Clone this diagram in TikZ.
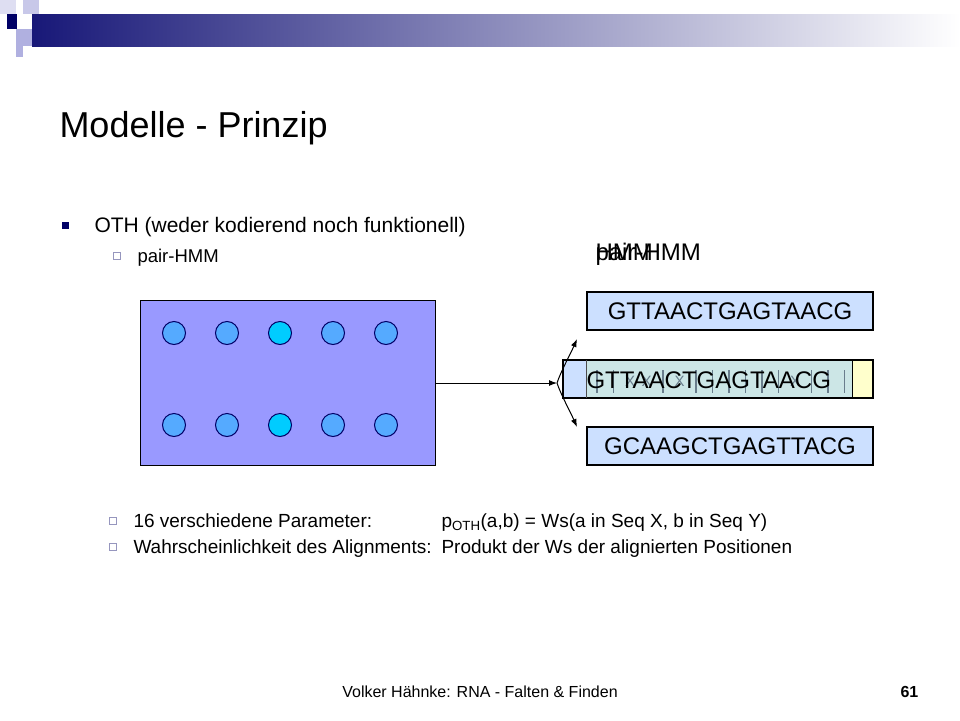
\documentclass[tikz,border=0pt]{standalone}
\usepackage{fontspec}
\setmainfont{Liberation Sans}
\usetikzlibrary{arrows, arrows.meta, positioning}
\definecolor{navyblue}{RGB}{0,0,102}
\definecolor{barnavy}{RGB}{24,24,120}
\definecolor{lavender}{RGB}{176,176,224}
\definecolor{paleblue}{RGB}{222,222,242}
\definecolor{modelblue}{RGB}{153,153,255}
\definecolor{dotblue}{RGB}{85,170,255}
\definecolor{dotcyan}{RGB}{0,204,255}
\definecolor{seqblue}{RGB}{204,224,255}
\definecolor{seqgreen}{RGB}{204,230,230}
\definecolor{seqyellow}{RGB}{255,255,204}
\definecolor{markgray}{RGB}{105,125,140}
\definecolor{hollowgray}{RGB}{150,150,190}

\begin{document}
\begin{tikzpicture}[x=1pt, y=-1pt, line width=1pt,
	txt/.style={inner sep=0pt, anchor=base west},
	tip/.style={-{Latex[length=8, width=6]}},
	seqbox/.style={draw, line width=1.2pt, fill=seqblue, minimum width=286, minimum height=38, inner sep=0pt, font=\fontsize{24}{28}\selectfont},
	dot/.style={circle, draw=navyblue, line width=1pt, minimum size=23, inner sep=0pt}]

	\useasboundingbox (0,0) rectangle (960,720);

	% header bar
	\fill[paleblue] (0,0) rectangle (16,14);
	\fill[lavender!70] (23,0) rectangle (39,14);
	\shade[left color=barnavy, right color=white] (32,14) rectangle (960,46);
	\fill[navyblue] (7,14) rectangle (17,29);
	\fill[lavender] (16,29) rectangle (32,46);
	\fill[lavender] (16,46) rectangle (23,57);

	% title
	\node[txt, font=\fontsize{36}{40}\selectfont] (title) at (59,137) {Modelle - Prinzip};

	% bullets
	\fill[navyblue] (62,222) rectangle (69,229);
	\node[txt, font=\fontsize{21}{24}\selectfont] (oth) at (94,232) {OTH (weder kodierend noch funktionell)};
	\draw[hollowgray] (113,252) rectangle (120,259);
	\node[txt, font=\fontsize{18.5}{21}\selectfont] (pairhmm) at (137,262) {pair-HMM};

	% model box
	\node[draw, line width=1.2pt, fill=modelblue, minimum width=295, minimum height=165, inner sep=0pt] (model) at (288,383) {};
	\foreach \i in {0,...,4}{
		\ifnum\i=2 \def\dotcol{dotcyan}\else \def\dotcol{dotblue}\fi
		\node[dot, fill=\dotcol] (top\i) at (174+53*\i,333) {};
		\node[dot, fill=\dotcol] (bot\i) at (174+53*\i,425) {};
	}

	% labels top right (overlapping)
	\node[txt, font=\fontsize{24}{28}\selectfont] (hmm) at (595,260) {HMM};
	\node[txt, font=\fontsize{24}{28}\selectfont] (pairlabel) at (595,260) {pair-HMM};

	% sequences
	\node[seqbox] (seqtop) at (730,311) {GTTAACTGAGTAACG};
	\node[seqbox] (seqbot) at (730,446) {GCAAGCTGAGTTACG};
	\node[seqbox, minimum width=310] (seqmid) at (718,379) {};
	\fill[seqgreen] (586,360) rectangle (852,398);
	\fill[seqyellow] (852,360) rectangle (873,398);
	\draw[line width=1.2pt] (563,360) rectangle (873,398);
	\draw[line width=0.8pt, black!70] (586,360) -- (586,398);
	\draw[line width=0.8pt] (852,360) -- (852,398);
	% alignment marks
	\foreach \k in {1,...,16}{
		\ifnum\k=3 \def\mk{X}\else\ifnum\k=4 \def\mk{X}\else\ifnum\k=6 \def\mk{X}\else\ifnum\k=13 \def\mk{X}\else\def\mk{}\fi\fi\fi\fi
		\ifx\mk\empty
			\draw[markgray, line width=1.2pt] (580.5+16.5*\k,370) -- (580.5+16.5*\k,393);
		\else
			\node[markgray, inner sep=0pt, font=\fontsize{15}{16}\selectfont] (mark\k) at (580.5+16.5*\k,381) {\mk};
		\fi
	}
	\node[txt, font=\fontsize{24}{28}\selectfont] (seqmidtext) at (586,388) {GTTAACTGAGTAACG};

	% arrows
	\coordinate (branch) at (557,383);
	\coordinate (uptip) at (577,339);
	\coordinate (downtip) at (577,427);
	\draw[tip] (model.east) -- (branch);
	\draw[tip] (branch) .. controls +(4,-12) and +(-7,16) .. (uptip);
	\draw[tip] (branch) .. controls +(4,12) and +(-7,-16) .. (downtip);

	% parameters
	\draw[hollowgray] (109,517) rectangle (116,524);
	\node[txt, font=\fontsize{19}{22}\selectfont] (par) at (133,527) {16 verschiedene Parameter:};
	\node[txt, font=\fontsize{19}{22}\selectfont] (parval) at (441,527) {p\textsubscript{OTH}(a,b) = Ws(a in Seq X, b in Seq Y)};
	\draw[hollowgray] (109,543) rectangle (116,550);
	\node[txt, font=\fontsize{19}{22}\selectfont] (ali) at (133,553) {Wahrscheinlichkeit des Alignments:};
	\node[txt, font=\fontsize{19}{22}\selectfont] (alival) at (441,553) {Produkt der Ws der alignierten Positionen};

	% footer
	\node[inner sep=0pt, anchor=base, font=\fontsize{16}{18}\selectfont] (footer) at (480,697) {Volker Hähnke: RNA - Falten \& Finden};
	\node[txt, font=\fontsize{16}{18}\selectfont\bfseries] (pagenum) at (900,697) {61};
\end{tikzpicture}
\end{document}
